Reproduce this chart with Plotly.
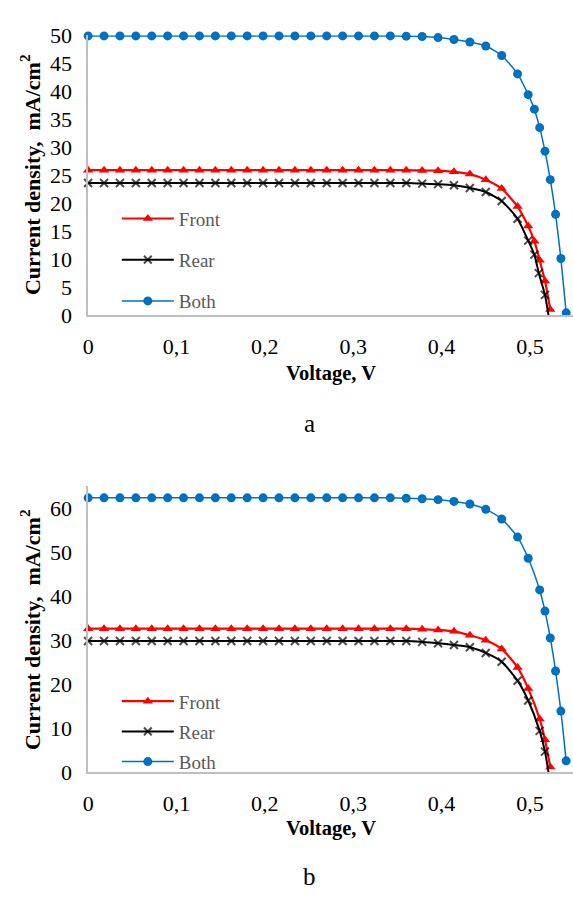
import plotly.graph_objects as go

# ---------------- data ----------------
# (a) top panel
va_front = [0, 0.018, 0.036, 0.054, 0.072, 0.090, 0.108, 0.126, 0.144, 0.162, 0.180, 0.198, 0.216, 0.234,
            0.252, 0.270, 0.288, 0.306, 0.324, 0.342, 0.360, 0.378, 0.396, 0.414, 0.432, 0.450, 0.468, 0.486,
            0.498, 0.505, 0.511, 0.517, 0.523]
ja_front = [25.9, 25.9, 25.9, 25.9, 25.9, 25.9, 25.9, 25.9, 25.9, 25.9, 25.9, 25.9, 25.9, 25.9,
            25.9, 25.9, 25.9, 25.9, 25.9, 25.9, 25.9, 25.85, 25.8, 25.6, 25.2, 24.2, 22.6, 19.4,
            15.9, 13.2, 9.8, 6.1, 1.0]

va_rear = [0, 0.018, 0.036, 0.054, 0.072, 0.090, 0.108, 0.126, 0.144, 0.162, 0.180, 0.198, 0.216, 0.234,
           0.252, 0.270, 0.288, 0.306, 0.324, 0.342, 0.360, 0.378, 0.396, 0.414, 0.432, 0.450, 0.468, 0.486,
           0.498, 0.505, 0.510, 0.517, 0.521]
ja_rear = [23.6, 23.6, 23.6, 23.6, 23.6, 23.6, 23.6, 23.6, 23.6, 23.6, 23.6, 23.6, 23.6, 23.6,
           23.6, 23.6, 23.6, 23.6, 23.6, 23.6, 23.6, 23.5, 23.4, 23.2, 22.7, 22.0, 20.4, 17.2,
           13.3, 10.8, 7.5, 3.6, 0.0]

va_both = [0, 0.018, 0.036, 0.054, 0.072, 0.090, 0.108, 0.126, 0.144, 0.162, 0.180, 0.198, 0.216, 0.234,
           0.252, 0.270, 0.288, 0.306, 0.324, 0.342, 0.360, 0.378, 0.396, 0.414, 0.432, 0.450, 0.468, 0.486,
           0.498, 0.505, 0.511, 0.517, 0.523, 0.529, 0.535, 0.541]
ja_both = [49.9, 49.9, 49.9, 49.9, 49.9, 49.9, 49.9, 49.9, 49.9, 49.9, 49.9, 49.9, 49.9, 49.9,
           49.9, 49.9, 49.9, 49.9, 49.9, 49.9, 49.85, 49.8, 49.6, 49.25, 48.8, 48.1, 46.4, 43.1,
           39.4, 36.8, 33.5, 29.3, 24.2, 18.0, 10.1, 0.4]

# (b) bottom panel
vb_front = [0, 0.018, 0.036, 0.054, 0.072, 0.090, 0.108, 0.126, 0.144, 0.162, 0.180, 0.198, 0.216, 0.234,
            0.252, 0.270, 0.288, 0.306, 0.324, 0.342, 0.360, 0.378, 0.396, 0.414, 0.432, 0.450, 0.468, 0.486,
            0.498, 0.511, 0.517, 0.523]
jb_front = [32.6, 32.6, 32.6, 32.6, 32.6, 32.6, 32.6, 32.6, 32.6, 32.6, 32.6, 32.6, 32.6, 32.6,
            32.6, 32.6, 32.6, 32.6, 32.6, 32.6, 32.6, 32.5, 32.3, 32.0, 31.1, 30.0, 28.0, 23.8,
            19.0, 12.1, 7.4, 1.2]

vb_rear = [0, 0.018, 0.036, 0.054, 0.072, 0.090, 0.108, 0.126, 0.144, 0.162, 0.180, 0.198, 0.216, 0.234,
           0.252, 0.270, 0.288, 0.306, 0.324, 0.342, 0.360, 0.378, 0.396, 0.414, 0.432, 0.450, 0.468, 0.486,
           0.498, 0.511, 0.517, 0.521]
jb_rear = [29.8, 29.8, 29.8, 29.8, 29.8, 29.8, 29.8, 29.8, 29.8, 29.8, 29.8, 29.8, 29.8, 29.8,
           29.8, 29.8, 29.8, 29.8, 29.8, 29.8, 29.8, 29.6, 29.3, 28.9, 28.4, 27.1, 25.1, 20.8,
           16.3, 9.4, 4.7, 0.0]

vb_both = [0, 0.018, 0.036, 0.054, 0.072, 0.090, 0.108, 0.126, 0.144, 0.162, 0.180, 0.198, 0.216, 0.234,
           0.252, 0.270, 0.288, 0.306, 0.324, 0.342, 0.360, 0.378, 0.396, 0.414, 0.432, 0.450, 0.468, 0.486,
           0.498, 0.511, 0.517, 0.523, 0.529, 0.535, 0.541]
jb_both = [62.3, 62.3, 62.3, 62.3, 62.3, 62.3, 62.3, 62.3, 62.3, 62.3, 62.3, 62.3, 62.3, 62.3,
           62.3, 62.3, 62.3, 62.3, 62.3, 62.3, 62.2, 62.1, 61.9, 61.5, 60.9, 59.7, 57.5, 53.4,
           48.6, 41.4, 36.6, 30.5, 23.0, 13.9, 2.6]

series_names = ["Front", "Rear", "Both"]
x_ticks = [0, 0.1, 0.2, 0.3, 0.4, 0.5]
panel_labels = ["a", "b"]
x_title = "Voltage, V"
y_title = "Current density,  mA/cm<sup>2</sup>"

# ---------------- styling ----------------
W, H = 573, 901
FONT = "Liberation Serif, Times New Roman, Times, serif"
AXIS_GREY = "#BFBFBF"
RED, BLACK, BLUE = "#FF0000", "#000000", "#0070C0"


def px_y(p):
    return 1 - p / H


def px_x(p):
    return p / W


fig = go.Figure()

panels = [
    (va_front, ja_front, va_rear, ja_rear, va_both, ja_both, "x", "y", "legend"),
    (vb_front, jb_front, vb_rear, jb_rear, vb_both, jb_both, "x2", "y2", "legend2"),
]

for vf, jf, vr, jr, vbth, jbth, xa, ya, lg in panels:
    rear_sizes = [8] * (len(vr) - 1) + [0]
    fig.add_trace(go.Scatter(
        x=vf, y=jf, name=series_names[0], xaxis=xa, yaxis=ya, legend=lg, legendgroup=lg + "f",
        mode="lines+markers", line=dict(color=RED, width=2.2, shape="spline", smoothing=0.6),
        marker=dict(symbol="triangle-up", size=9, color=RED), cliponaxis=False))
    fig.add_trace(go.Scatter(
        x=vr, y=jr, name=series_names[1], xaxis=xa, yaxis=ya, legend=lg, legendgroup=lg + "r",
        mode="lines+markers", line=dict(color=BLACK, width=2, shape="spline", smoothing=0.6),
        marker=dict(symbol="x-thin", size=rear_sizes, color=BLACK,
                    line=dict(color=BLACK, width=2)), cliponaxis=False))
    fig.add_trace(go.Scatter(
        x=vbth, y=jbth, name=series_names[2], xaxis=xa, yaxis=ya, legend=lg, legendgroup=lg + "b",
        mode="lines+markers", line=dict(color=BLUE, width=1.5, shape="spline", smoothing=0.6),
        marker=dict(symbol="circle", size=9, color=BLUE), cliponaxis=False))

x_left = 83
x_max = (W - x_left) / 893.0

tick_font = dict(family=FONT, size=22, color="#000")
common_x = dict(range=[0, x_max], tickvals=x_ticks, showgrid=False, zeroline=False,
                showline=True, linecolor=AXIS_GREY, linewidth=1.5, ticks="",
                tickfont=tick_font, ticklabelstandoff=11,
                domain=[px_x(x_left), 1])
common_y = dict(showgrid=False, zeroline=False, showline=True, linecolor=AXIS_GREY, linewidth=1.5,
                ticks="", tickfont=tick_font, ticklabelstandoff=10)

fig.update_layout(
    width=W, height=H, margin=dict(l=0, r=0, t=0, b=0),
    paper_bgcolor="white", plot_bgcolor="white",
    separators=", ",
    font=dict(family=FONT),
    xaxis=dict(common_x, anchor="y"),
    yaxis=dict(common_y, range=[0, 50], dtick=5, anchor="x",
               domain=[px_y(311.7), px_y(24)]),
    xaxis2=dict(common_x, anchor="y2"),
    yaxis2=dict(common_y, range=[0, 65], dtick=10, anchor="x2",
                domain=[px_y(782), px_y(487.5)]),
    legend=dict(x=px_x(112), y=px_y(193), xanchor="left", yanchor="top",
                bgcolor="rgba(0,0,0,0)", font=dict(family=FONT, size=19, color="#595959"),
                tracegroupgap=13.5, itemwidth=52),
    legend2=dict(x=px_x(112), y=px_y(689.5), xanchor="left", yanchor="top",
                 bgcolor="rgba(0,0,0,0)", font=dict(family=FONT, size=19, color="#595959"),
                 tracegroupgap=2.5, itemwidth=52),
    showlegend=True,
)

xt_font = dict(family=FONT, size=20.5, color="#000")
yt_font = dict(family=FONT, size=22, color="#000")
annotations = []
for (xc, yc) in [(328, 371.7), (328, 840)]:
    annotations.append(dict(text="<b>" + x_title + "</b>", x=px_x(xc), y=px_y(yc), xref="paper",
                            yref="paper", showarrow=False, font=xt_font,
                            xanchor="center", yanchor="middle"))
for yc in [167, 635]:
    annotations.append(dict(text="<b>" + y_title + "</b>", x=px_x(25), y=px_y(yc), xref="paper",
                            yref="paper", showarrow=False, font=yt_font, textangle=-90,
                            xanchor="center", yanchor="middle"))
for lab, yc in zip(panel_labels, [423, 889]):
    annotations.append(dict(text=lab, x=px_x(307), y=px_y(yc), xref="paper", yref="paper",
                            showarrow=False, font=dict(family=FONT, size=25, color="#000"),
                            xanchor="center", yanchor="middle"))
fig.update_layout(annotations=annotations)

fig.write_html("out.html")
